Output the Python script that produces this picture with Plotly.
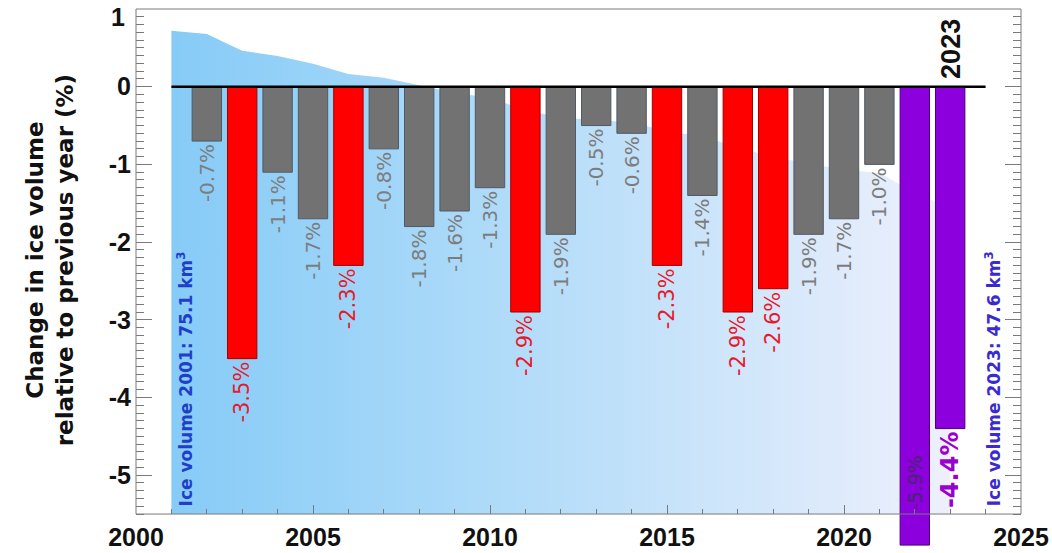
import numpy as np
import plotly.graph_objects as go

# ---- data -------------------------------------------------------------
years = list(range(2002, 2024))
change_pct = [-0.7, -3.5, -1.1, -1.7, -2.3, -0.8, -1.8, -1.6, -1.3, -2.9, -1.9,
              -0.5, -0.6, -2.3, -1.4, -2.9, -2.6, -1.9, -1.7, -1.0, -5.9, -4.4]
# bar class per year: ordinary loss, large loss, record loss
bar_class = ["normal", "large", "normal", "normal", "large", "normal", "normal",
             "normal", "normal", "large", "normal", "normal", "normal", "large",
             "normal", "large", "large", "normal", "normal", "normal",
             "record", "record"]

volume_years = list(range(2001, 2024))
ice_volume_km3 = [75.1, 74.6, 72.0, 71.2, 70.0, 68.4, 67.8, 66.6, 65.5, 64.7,
                  62.8, 61.6, 61.3, 60.9, 59.5, 58.7, 57.0, 55.5, 54.5, 53.5,
                  53.0, 49.9, 47.6]

x_ticks = [2000, 2005, 2010, 2015, 2020, 2025]
y_ticks = [-5, -4, -3, -2, -1, 0, 1]
y_tick_text = ["-5", "-4", "-3", "-2", "-1", "0", ""]

# ---- frame geometry ---------------------------------------------------
X_RANGE = [2000, 2025]
Y_TOP = 1.0        # top of the frame
Y_AXIS = -5.5      # bottom of the frame (x axis line)
Y_FLOOR = -5.95    # lowest drawable value (record bar pokes below the frame)
VOL_TOP = 78.5     # km3 at the top of the frame, 0 km3 at the x axis line
vol_range = [VOL_TOP * (Y_FLOOR - Y_AXIS) / (Y_TOP - Y_AXIS), VOL_TOP]
AXIS_POS = (Y_AXIS - Y_FLOOR) / (Y_TOP - Y_FLOOR)

TICK_FONT = "Liberation Sans, Arial, sans-serif"
TEXT_FONT = "DejaVu Sans, Verdana, sans-serif"
AXIS_GREY = "#7a7a7a"

styles = {
    "normal": dict(fill="#727272", edge="#505a66", text="#7d7d7d", size=20, weight="normal"),
    "large": dict(fill="#ff0000", edge="#a00000", text="#e8192c", size=21, weight="normal"),
    "record": dict(fill="#8b00dc", edge="#4b0080", text="#9a00d2", size=24, weight="bold"),
}

fig = go.Figure()

# ice volume, drawn as a gradient-filled area on a hidden km3 axis
fig.add_trace(go.Scatter(
    x=volume_years, y=ice_volume_km3, yaxis="y2", mode="lines",
    line=dict(width=0), fill="tozeroy",
    fillgradient=dict(type="horizontal",
                      colorscale=[[0, "#86cbf7"], [0.45, "#b2dcf9"], [1, "#eef0fc"]]),
    hoverinfo="skip", showlegend=False,
))

# yearly change bars, one trace per class
for cls, st in styles.items():
    xs = [y for y, c in zip(years, bar_class) if c == cls]
    vs = [v for v, c in zip(change_pct, bar_class) if c == cls]
    fig.add_trace(go.Bar(
        x=xs, y=vs, yaxis="y3", width=0.83,
        marker=dict(color=st["fill"], line=dict(color=st["edge"], width=1)),
        text=[f"{v:.1f}%" for v in vs],
        textposition=["none" if v < Y_AXIS else "outside" for v in vs],
        textangle=-90, constraintext="none", cliponaxis=False,
        textfont=dict(family=TEXT_FONT, size=st["size"], color=st["text"],
                      weight=st["weight"]),
        hoverinfo="skip", showlegend=False,
    ))

annotations = []
# labels of bars running below the frame sit inside the bar at the axis line
for y, v in zip(years, change_pct):
    if v < Y_AXIS:
        annotations.append(dict(
            x=y, xref="x", y=Y_AXIS, yref="y", yanchor="bottom", yshift=2,
            text=f"{v:.1f}%", textangle=-90, showarrow=False,
            font=dict(family=TEXT_FONT, size=19, color="#4a2470")))

annotations += [
    dict(x=years[-1], xref="x", y=0, yref="y", yanchor="bottom", yshift=6,
         text=f"<b>{years[-1]}</b>", textangle=-90, showarrow=False,
         font=dict(family=TICK_FONT, size=27, color="#111111")),
    dict(x=volume_years[0] + 0.38, xref="x", y=Y_AXIS, yref="y",
         yanchor="bottom", yshift=6, textangle=-90, showarrow=False,
         text=f"<b>Ice volume {volume_years[0]}: {ice_volume_km3[0]:.1f} km<sup>3</sup></b>",
         font=dict(family=TEXT_FONT, size=17, color="#1f3fc8")),
    dict(x=volume_years[-1] + 1.2, xref="x", y=Y_AXIS, yref="y",
         yanchor="bottom", yshift=6, textangle=-90, showarrow=False,
         text=f"<b>Ice volume {volume_years[-1]}: {ice_volume_km3[-1]:.1f} km<sup>3</sup></b>",
         font=dict(family=TEXT_FONT, size=17, color="#3a2ad0")),
    dict(x=-0.097, xref="paper", y=0.535, yref="paper", textangle=-90,
         showarrow=False, xanchor="center", yanchor="middle",
         text="<b>Change in ice volume<br>relative to previous year (%)</b>",
         font=dict(family=TEXT_FONT, size=23, color="#111111")),
    dict(x=0, xref="paper", xanchor="right", xshift=-9, y=Y_TOP, yref="y",
         yanchor="middle", yshift=-8, text="<b>1</b>", showarrow=False,
         font=dict(family=TICK_FONT, size=25, color="#111111")),
]

minor_y = [v for v in np.round(np.arange(Y_AXIS, Y_TOP + 0.001, 0.1), 1)
           if abs(v - round(v)) > 1e-6]

shapes = [
    # plot frame
    dict(type="rect", xref="x domain", yref="y domain", x0=0, x1=1,
         y0=AXIS_POS, y1=1, line=dict(color=AXIS_GREY, width=1),
         fillcolor="rgba(0,0,0,0)", layer="above"),
    # zero line
    dict(type="line", xref="x", x0=volume_years[0], x1=years[-1] + 1, yref="y",
         y0=0, y1=0, line=dict(color="#000000", width=2.5), layer="above"),
]

tickfont = dict(family=TICK_FONT, size=25, color="#111111", weight="bold")
common_x = dict(range=X_RANGE, tickvals=x_ticks, ticks="inside", ticklen=9,
                tickwidth=1, tickcolor=AXIS_GREY, showline=False,
                showgrid=False, zeroline=False, fixedrange=True,
                automargin=False,
                minor=dict(dtick=1, tick0=2000, ticks="inside", ticklen=5,
                           tickwidth=1, tickcolor=AXIS_GREY))
hidden_change_axis = dict(range=[Y_FLOOR, Y_TOP], visible=False, fixedrange=True)

fig.update_layout(
    width=1052, height=553,
    margin=dict(l=136, r=31, t=9, b=4, autoexpand=False),
    paper_bgcolor="white", plot_bgcolor="white",
    barmode="overlay",
    xaxis=dict(**common_x, anchor="free", position=AXIS_POS,
               tickfont=tickfont, ticklabelstandoff=6),
    xaxis2=dict(**common_x, overlaying="x", side="top", anchor="y",
                showticklabels=False),
    # visible change axis (left), ticks mirrored on the right
    yaxis=dict(range=[Y_FLOOR, Y_TOP], tickvals=y_ticks, ticktext=y_tick_text,
               ticks="inside", ticklen=16, tickwidth=1, tickcolor=AXIS_GREY,
               mirror="ticks", showline=False, showgrid=False, zeroline=False,
               fixedrange=True, tickfont=tickfont, ticklabelstandoff=4,
               anchor="x", side="left", automargin=False,
               minor=dict(tickvals=minor_y, ticks="inside", ticklen=8,
                          tickwidth=1, tickcolor=AXIS_GREY)),
    # hidden km3 axis for the ice volume area
    yaxis2=dict(range=vol_range, visible=False, fixedrange=True,
                overlaying="y", anchor="x"),
    # hidden change axis carrying the bars, drawn above the area
    yaxis3=dict(**hidden_change_axis, overlaying="y", anchor="x"),
    annotations=annotations,
    shapes=shapes,
)

fig.write_html("out.html")
